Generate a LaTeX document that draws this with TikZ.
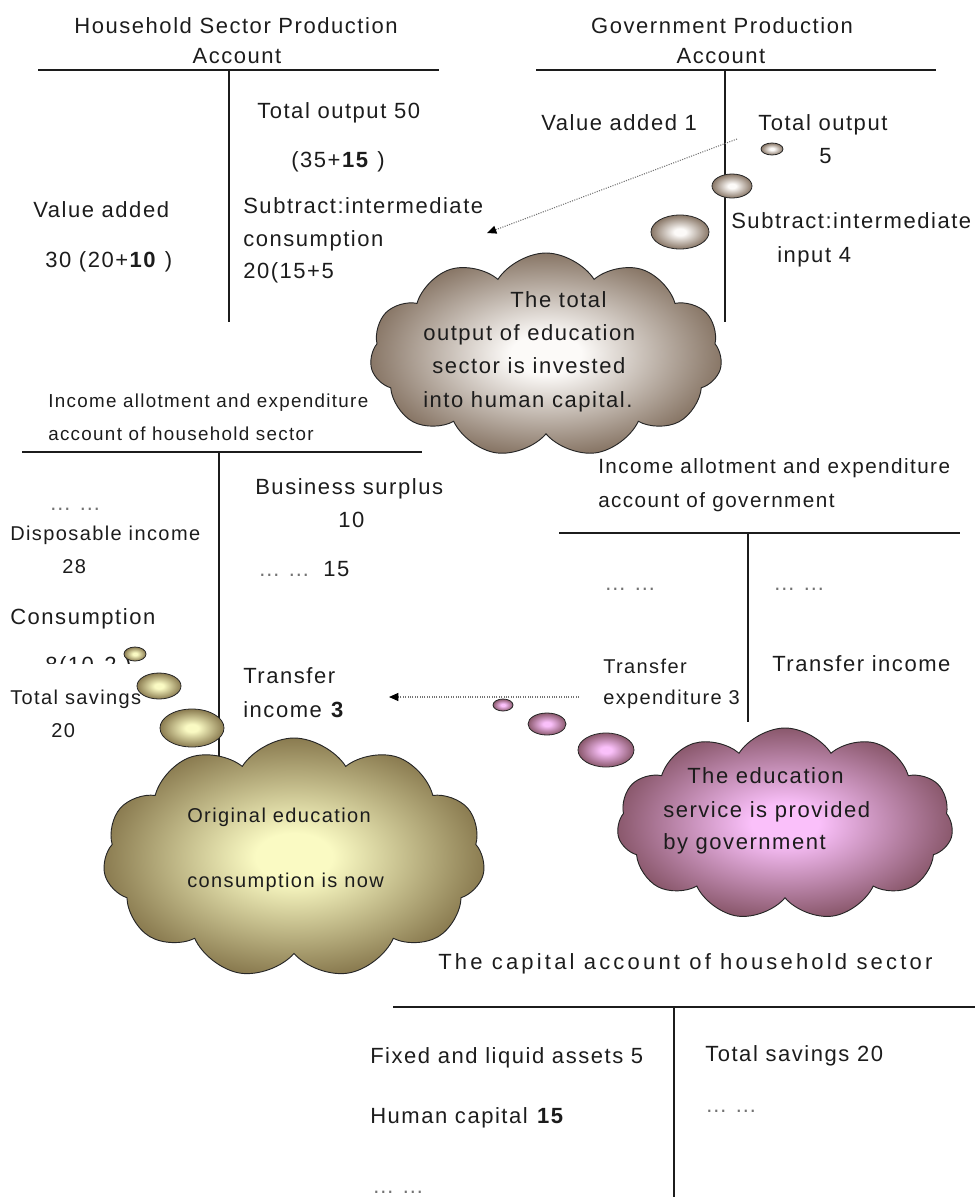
\documentclass[tikz,border=0pt]{standalone}
\usepackage{fontspec}
\setmainfont[LetterSpace=7]{Liberation Sans}
\usetikzlibrary{shapes.symbols,shapes.geometric,arrows.meta}
\definecolor{brEdge}{RGB}{136,118,102}
\definecolor{brIn}{RGB}{252,250,248}
\definecolor{olEdge}{RGB}{138,123,80}
\definecolor{olIn}{RGB}{250,250,195}
\definecolor{pkEdge}{RGB}{138,88,108}
\definecolor{pkIn}{RGB}{250,192,250}
\definecolor{ink}{RGB}{28,28,28}
\pgfdeclareradialshading{shB}{\pgfpointorigin}{color(0bp)=(brIn); color(5bp)=(brIn); color(25bp)=(brEdge); color(50bp)=(brEdge)}
\pgfdeclareradialshading{shO}{\pgfpointorigin}{color(0bp)=(olIn); color(5bp)=(olIn); color(25bp)=(olEdge); color(50bp)=(olEdge)}
\pgfdeclareradialshading{shP}{\pgfpointorigin}{color(0bp)=(pkIn); color(5bp)=(pkIn); color(25bp)=(pkEdge); color(50bp)=(pkEdge)}
\newcommand\fbig{\fontsize{16.5pt}{19pt}\selectfont}
\newcommand\fmid{\fontsize{15pt}{18pt}\selectfont}
\newcommand\fgov{\fontsize{15.5pt}{18pt}\selectfont}
\newcommand\fhh{\fontsize{14.1pt}{17pt}\selectfont}
\def\px{0.75pt}
\tikzset{
  tline/.style={draw=ink, line width=1pt},
  txt/.style={anchor=base west, inner sep=0pt, font=\fbig, text=ink},
  mtxt/.style={anchor=base west, inner sep=0pt, font=\fmid, text=ink},
  ctxt/.style={anchor=base, inner sep=0pt, font=\fbig, text=ink},
  htxt/.style={anchor=base west, inner sep=0pt, font=\fhh, text=ink},
  gtxt/.style={anchor=base west, inner sep=0pt, font=\fgov, text=ink},
  dots/.style={anchor=base west, inner sep=0pt, font=\fbig, text=black!55},
  cloudbase/.style={cloud, cloud puffs=11, cloud puff arc=115, cloud ignores aspect,
     draw=black!85, line width=0.7pt, inner sep=0pt},
  cloudB/.style={cloudbase, shading=shB},
  cloudO/.style={cloudbase, shading=shO},
  cloudP/.style={cloudbase, shading=shP},
  bub/.style={ellipse, draw=black!85, line width=0.6pt, inner sep=0pt},
  bubB/.style={bub, shading=shB},
  bubO/.style={bub, shading=shO},
  bubP/.style={bub, shading=shP},
  darrow/.style={draw=black!55, densely dotted, line width=0.8pt,
     -{Triangle[length=7pt,width=6pt,color=black]}}
}
\begin{document}
\begin{tikzpicture}[x=0.75pt,y=-0.75pt]
\useasboundingbox (0,0) rectangle (975,1197);
% ---------- T-account lines
\coordinate (l1a) at (38,70);  \coordinate (l1b) at (439,70);
\coordinate (v1a) at (229,70); \coordinate (v1b) at (229,322);
\coordinate (l2a) at (536,70); \coordinate (l2b) at (936,70);
\coordinate (v2a) at (725,70); \coordinate (v2b) at (725,322);
\coordinate (l3a) at (22,452); \coordinate (l3b) at (422,452);
\coordinate (v3a) at (219,452); \coordinate (v3b) at (219,767);
\coordinate (l4a) at (559,533); \coordinate (l4b) at (960,533);
\coordinate (v4a) at (748,533); \coordinate (v4b) at (748,722);
\coordinate (l5a) at (393,1007); \coordinate (l5b) at (975,1007);
\coordinate (v5a) at (674,1007); \coordinate (v5b) at (674,1197);
\draw[tline] (l1a) -- (l1b); \draw[tline] (v1a) -- (v1b);
\draw[tline] (l2a) -- (l2b); \draw[tline] (v2a) -- (v2b);
\draw[tline] (l3a) -- (l3b); \draw[tline] (v3a) -- (v3b);
\draw[tline] (l4a) -- (l4b); \draw[tline] (v4a) -- (v4b);
\draw[tline] (l5a) -- (l5b); \draw[tline] (v5a) -- (v5b);

% ---------- top-left: household production account
\node[ctxt] (hpt1) at (236,33) {Household Sector Production};
\node[ctxt] (hpt2) at (237,63) {Account};
\node[txt] (hp1) at (257,118) {Total output 50};
\node[txt] (hp2) at (291,167) {(35+\textbf{15} )};
\node[txt] (hp3) at (243,213) {Subtract:intermediate};
\node[txt] (hp4) at (243,246) {consumption};
\node[txt] (hp5) at (243,278) {20(15+5};
\node[txt] (hp6) at (33,217) {Value added};
\node[txt] (hp7) at (45,267) {30 (20+\textbf{10} )};

% ---------- top-right: government production account
\node[ctxt] (gpt1) at (722,33) {Government Production};
\node[ctxt] (gpt2) at (721,63) {Account};
\node[txt] (gp1) at (541,130) {Value added 1};
\node[txt] (gp2) at (758,130) {Total output};
\node[txt] (gp3) at (819,163) {5};
\node[txt] (gp4) at (731,228) {Subtract:intermediate};
\node[txt] (gp5) at (777,262) {input 4};

% ---------- middle-left: household income account
\node[htxt] (hit1) at (48,407) {Income allotment and expenditure};
\node[htxt] (hit2) at (48,440) {account of household sector};
\node[dots] (hi0) at (49,510) {… …};
\node[mtxt] (hi1) at (10,540) {Disposable income};
\node[mtxt] (hi2) at (62,573) {28};
\node[txt] (hi3) at (10,624) {Consumption};
\begin{scope}
  \clip (0,640) rectangle (130,663);
  \node[txt] (hi4) at (45,672) {8(10-2 )};
\end{scope}
\node[mtxt] (hi5) at (10,704) {Total savings};
\node[mtxt] (hi6) at (51,737) {20};
\node[txt] (hi7) at (255,494) {Business surplus};
\node[txt] (hi8) at (338,527) {10};
\node[dots] (hi9) at (258,576) {… …};
\node[txt] (hi10) at (323,576) {15};
\node[txt] (hi11) at (243,683) {Transfer};
\node[txt] (hi12) at (243,717) {income \textbf{3}};

% ---------- middle-right: government income account
\node[gtxt] (git1) at (598,473) {Income allotment and expenditure};
\node[gtxt] (git2) at (598,507) {account of government};
\node[dots] (gi1) at (604,590) {… …};
\node[dots] (gi2) at (773,590) {… …};
\node[mtxt] (gi3) at (603,673) {Transfer};
\node[mtxt] (gi4) at (603,704) {expenditure 3};
\node[txt] (gi5) at (772,671) {Transfer income};

% ---------- bottom: capital account
\node[txt, font=\fbig\addfontfeatures{LetterSpace=14.5}] (ct) at (438,969) {The capital account of household sector};
\node[txt] (c1) at (370,1063) {Fixed and liquid assets 5};
\node[txt] (c2) at (370,1123) {Human capital \textbf{15}};
\node[dots] (c3) at (372,1193) {… …};
\node[txt] (c4) at (705,1061) {Total savings 20};
\node[dots] (c5) at (705,1112) {… …};

% ---------- bubbles
\node[bubB, minimum width=22*\px, minimum height=12*\px] (bb1) at (772,149) {};
\node[bubB, minimum width=40*\px, minimum height=24*\px] (bb2) at (732,186) {};
\node[bubB, minimum width=58*\px, minimum height=34*\px] (bb3) at (680,232) {};
\node[bubO, minimum width=22*\px, minimum height=14*\px] (bo1) at (135,654) {};
\node[bubO, minimum width=44*\px, minimum height=26*\px] (bo2) at (159,686) {};
\node[bubO, minimum width=64*\px, minimum height=38*\px] (bo3) at (192,728) {};
\node[bubP, minimum width=20*\px, minimum height=12*\px] (bp1) at (503,705) {};
\node[bubP, minimum width=38*\px, minimum height=22*\px] (bp2) at (547,724) {};
\node[bubP, minimum width=56*\px, minimum height=34*\px] (bp3) at (606,750) {};

% ---------- clouds
\node[cloudB, minimum width=352*\px, minimum height=204*\px] (cl1) at (546,355) {};
\node[cloudO, minimum width=382*\px, minimum height=240*\px] (cl2) at (294,858) {};
\node[cloudP, minimum width=336*\px, minimum height=192*\px] (cl3) at (785,824) {};

\node[txt] (c1t1) at (510,307) {The total};
\node[txt] (c1t2) at (423,340) {output of education};
\node[txt] (c1t3) at (432,373) {sector is invested};
\node[txt] (c1t4) at (423,407) {into human capital.};
\node[mtxt] (c2t1) at (187,822) {Original education};
\node[mtxt] (c2t2) at (187,887) {consumption is now};
\node[txt] (c3t1) at (687,783) {The education};
\node[txt] (c3t2) at (663,817) {service is provided};
\node[txt] (c3t3) at (663,849) {by government};

% ---------- dotted arrows
\coordinate (a1s) at (737,139); \coordinate (a1e) at (487,233);
\coordinate (a2s) at (579,697); \coordinate (a2e) at (389,697);
\draw[darrow] (a1s) -- (a1e);
\draw[darrow] (a2s) -- (a2e);
\end{tikzpicture}
\end{document}
